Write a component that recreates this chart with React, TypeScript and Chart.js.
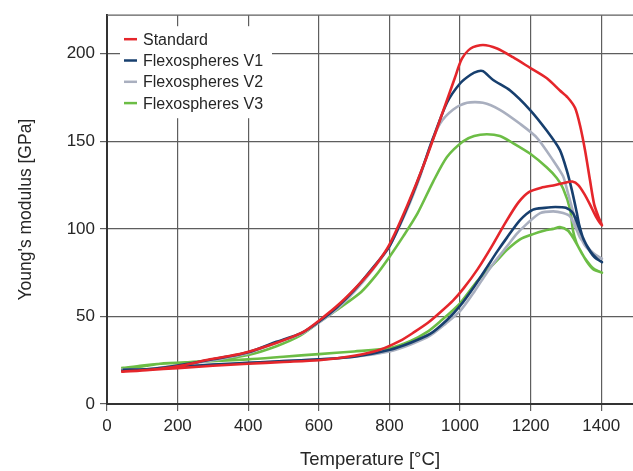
import React, { useEffect, useRef } from 'react';
import { Chart, registerables } from 'chart.js';

Chart.register(...registerables);

// ---------- data (temperature °C, Young's modulus GPa) ----------
const xTicks = [0, 200, 400, 600, 800, 1000, 1200, 1400];
const yTicks = [0, 50, 100, 150, 200];

const seriesNames = ['Standard', 'Flexospheres V1', 'Flexospheres V2', 'Flexospheres V3'];

const standardHeating = [
  [40, 18.5], [120, 19.5], [200, 20.5], [300, 21.8], [400, 23], [500, 24], [600, 25], [700, 27.5],
  [773, 31], [830, 36], [870, 41], [910, 46.5], [945, 52.5], [980, 59], [1010, 66], [1050, 77],
  [1090, 90], [1130, 104], [1165, 115], [1195, 121], [1230, 123.5], [1270, 125], [1300, 126.5],
  [1318, 127], [1335, 125], [1352, 120], [1368, 114], [1385, 107], [1402, 102],
];
const standardCooling = [
  [1392, 107], [1380, 114], [1368, 128], [1354, 145], [1340, 159], [1326, 169], [1305, 175],
  [1283, 179], [1246, 186], [1198, 192], [1150, 198], [1105, 203], [1065, 205], [1030, 203],
  [1005, 197], [985, 186], [950, 166], [900, 138], [850, 113], [800, 91], [760, 79], [717, 69],
  [660, 57.5], [603, 48], [555, 41], [481, 35], [385, 29], [292, 25.5], [200, 21.5], [120, 19.5],
  [45, 18.5],
];

const v1Heating = [
  [40, 19], [120, 20], [200, 21], [300, 22.5], [400, 23.5], [500, 24.5], [600, 25.5], [700, 27],
  [802, 31], [860, 35], [915, 40], [963, 48], [1000, 56], [1040, 67], [1076, 78], [1105, 87],
  [1133, 95], [1170, 105], [1207, 111], [1240, 112], [1270, 112.5], [1300, 112], [1320, 109],
  [1340, 99], [1360, 90], [1380, 84], [1402, 81],
];
const v1Cooling = [
  [1388, 83], [1370, 87], [1350, 94], [1338, 102], [1331, 109], [1317, 122], [1303, 133],
  [1283, 145], [1246, 156], [1198, 168], [1142, 179], [1094, 185], [1065, 190], [1051, 190],
  [1030, 188], [1000, 183], [963, 172], [924, 152], [887, 131], [850, 112], [800, 90],
  [750, 77], [700, 65], [650, 55], [600, 47], [550, 40.5], [480, 35.5], [400, 29.5],
  [300, 25.5], [200, 22], [120, 20], [45, 19.5],
];

const v2Heating = [
  [40, 19.5], [120, 20], [200, 21.5], [300, 22.5], [400, 23.5], [500, 24.5], [600, 25.5], [700, 27],
  [800, 30], [860, 34], [915, 39], [960, 46], [1000, 53], [1040, 64], [1076, 75], [1105, 83],
  [1133, 90], [1160, 97], [1190, 103], [1227, 109], [1264, 110], [1292, 109], [1312, 107],
  [1327, 101], [1340, 95], [1355, 91], [1368, 88], [1385, 85], [1402, 83],
];
const v2Cooling = [
  [1388, 84], [1370, 87], [1352, 91], [1335, 99], [1320, 110], [1305, 121], [1292, 130],
  [1264, 139], [1218, 152], [1170, 160], [1113, 168], [1065, 172], [1020, 172], [980, 168],
  [943, 160], [915, 147], [887, 130], [850, 111], [800, 90], [750, 76], [700, 64],
  [650, 54], [600, 46.5], [550, 40], [480, 35], [400, 29], [300, 25], [200, 22], [120, 20],
  [45, 19.5],
];

const v3Heating = [
  [40, 20.5], [100, 21.5], [150, 23], [250, 24], [400, 25.5], [500, 27], [600, 28.5], [700, 30],
  [802, 32], [860, 36], [906, 41], [943, 47], [1000, 57.5], [1048, 70], [1076, 76], [1105, 82],
  [1133, 88], [1170, 94], [1207, 97], [1240, 99], [1264, 100], [1283, 101], [1306, 99],
  [1320, 95], [1340, 88], [1360, 81], [1377, 77], [1402, 75],
];
const v3Cooling = [
  [1390, 76], [1377, 77.5], [1360, 81.5], [1345, 86], [1330, 92], [1320, 99], [1312, 111],
  [1292, 123], [1274, 129], [1246, 135], [1198, 143], [1150, 149], [1113, 153], [1076, 154],
  [1040, 153], [1009, 150], [963, 141], [924, 127], [880, 109], [840, 96], [800, 84], [760, 73],
  [720, 64], [660, 55], [603, 47], [547, 39], [480, 33], [400, 28], [300, 25],
  [200, 23.5], [150, 23], [100, 22], [45, 20.5],
];

const seriesData = [
  [standardHeating, standardCooling],
  [v1Heating, v1Cooling],
  [v2Heating, v2Cooling],
  [v3Heating, v3Cooling],
];

// ---------- styles ----------
const seriesColors = ['#e5262b', '#173f6e', '#a9afbf', '#6cbd45'];
const FONT = "'Liberation Sans', Arial, sans-serif";
const TEXT_COLOR = '#262626';
const GRID_COLOR = '#5e5e5e';

const insideLegend = {
  id: 'insideLegend',
  beforeDatasetsDraw(chart: any) {
    const { ctx, chartArea } = chart;
    const x0 = chartArea.left;
    const y0 = chartArea.top;
    ctx.save();
    // top frame line
    ctx.strokeStyle = GRID_COLOR;
    ctx.lineWidth = 1.2;
    ctx.beginPath();
    ctx.moveTo(chartArea.left, chartArea.top);
    ctx.lineTo(chartArea.right, chartArea.top);
    ctx.stroke();
    // legend box
    ctx.fillStyle = '#ffffff';
    ctx.fillRect(x0 + 13, y0 + 11, 152, 92);
    chart.data.datasets.forEach((ds: any, i: number) => {
      const cy = y0 + 24 + i * 21.3;
      ctx.strokeStyle = ds.borderColor;
      ctx.lineWidth = 2.5;
      ctx.beginPath();
      ctx.moveTo(x0 + 17, cy);
      ctx.lineTo(x0 + 30, cy);
      ctx.stroke();
      ctx.fillStyle = TEXT_COLOR;
      ctx.font = `16px ${FONT}`;
      ctx.textBaseline = 'middle';
      ctx.textAlign = 'left';
      ctx.fillText(ds.label, x0 + 36, cy + 1);
    });
    ctx.restore();
  },
};

export default function App() {
  const canvasRef = useRef<HTMLCanvasElement | null>(null);

  useEffect(() => {
    document.body.style.margin = '0';
    const canvas = canvasRef.current;
    if (!canvas) return;

    const datasets = seriesNames.map((name, i) => {
      const [heat, cool] = seriesData[i];
      return {
        label: name,
        data: [...heat, ...cool].map(([x, y]) => ({ x, y })),
        borderColor: seriesColors[i],
        backgroundColor: seriesColors[i],
        borderWidth: 2.6,
        pointRadius: 0,
        showLine: true,
        fill: false,
        tension: 0.25,
      };
    });

    const chart = new Chart(canvas, {
      type: 'scatter',
      data: { datasets },
      plugins: [insideLegend],
      options: {
        animation: false,
        responsive: false,
        devicePixelRatio: 1,
        layout: { padding: { top: 14, left: 0, right: 0, bottom: 0 } },
        plugins: { legend: { display: false }, tooltip: { enabled: false } },
        scales: {
          x: {
            type: 'linear',
            min: 0,
            max: 1490,
            afterBuildTicks: (s: any) => {
              s.ticks = xTicks.map((v) => ({ value: v }));
            },
            afterFit: (s: any) => {
              s.height = 67;
            },
            ticks: {
              font: { family: FONT, size: 17 },
              color: TEXT_COLOR,
              padding: 5,
              maxRotation: 0,
              autoSkip: false,
              callback: (v: any) => String(v),
            },
            grid: { color: GRID_COLOR, lineWidth: 1.2, tickLength: 7, drawTicks: true },
            border: { color: '#333333', width: 2 },
            title: {
              display: true,
              text: 'Temperature [°C]',
              font: { family: FONT, size: 18.5 },
              color: TEXT_COLOR,
              padding: { top: 0, bottom: 0 },
            },
          },
          y: {
            type: 'linear',
            min: 0,
            max: 222,
            afterBuildTicks: (s: any) => {
              s.ticks = yTicks.map((v) => ({ value: v }));
            },
            afterFit: (s: any) => {
              s.width = 107;
            },
            ticks: {
              font: { family: FONT, size: 17 },
              color: TEXT_COLOR,
              padding: 5,
              autoSkip: false,
              callback: (v: any) => String(v),
            },
            grid: { color: GRID_COLOR, lineWidth: 1.2, tickLength: 7, drawTicks: true },
            border: { color: '#333333', width: 2 },
            title: {
              display: true,
              text: "Young's modulus [GPa]",
              font: { family: FONT, size: 17.5 },
              color: TEXT_COLOR,
              padding: { top: 16, bottom: 0 },
            },
          },
        },
      },
    });

    return () => chart.destroy();
  }, []);

  return (
    <div style={{ width: 633, height: 471 }}>
      <canvas ref={canvasRef} width={633} height={471} style={{ display: 'block' }} />
    </div>
  );
}
